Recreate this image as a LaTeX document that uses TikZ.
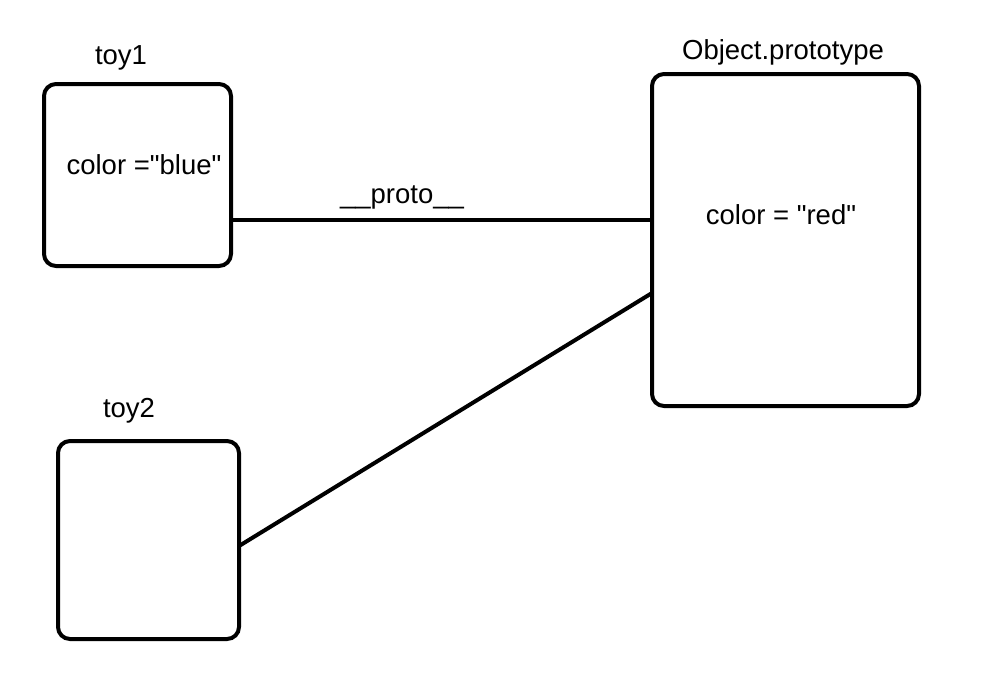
\documentclass[tikz,border=0pt]{standalone}
\usepackage{fontspec}
\setmainfont{Liberation Sans}[Ligatures=TeXOff]
\begin{document}
\begin{tikzpicture}[x=1pt,y=-1pt,
  objbox/.style={draw=black,line width=4pt,rounded corners=12pt,inner sep=0pt,outer sep=0pt},
  lbl/.style={inner sep=0pt,font=\fontsize{27.5}{32}\selectfont},
  link/.style={line width=4pt}]
\useasboundingbox (0,0) rectangle (985,686);
\node[objbox,minimum width=187pt,minimum height=182pt] (toy1) at (137.5,175) {};
\node[objbox,minimum width=181pt,minimum height=198pt] (toy2) at (148.5,540) {};
\node[objbox,minimum width=267pt,minimum height=332pt] (obj) at (785.5,240) {};
\node[lbl] (t1) at (121,58) {toy1};
\node[lbl] (t2) at (129,411) {toy2};
\node[lbl] (to) at (783,52) {Object.prototype};
\node[lbl] (cb) at (144,165) {color ="blue"};
\node[lbl] (cr) at (781,215) {color = "red"};
\node[lbl] (pr) at (402,197) {\_\_proto\_\_};
\coordinate (a1) at (toy1.east |- 0,220);
\coordinate (b1) at (obj.west |- 0,220);
\coordinate (a2) at (toy2.east |- 0,546);
\coordinate (b2) at (obj.west |- 0,293);
\draw[link] (a1) -- (b1);
\draw[link] (a2) -- (b2);
\end{tikzpicture}
\end{document}
